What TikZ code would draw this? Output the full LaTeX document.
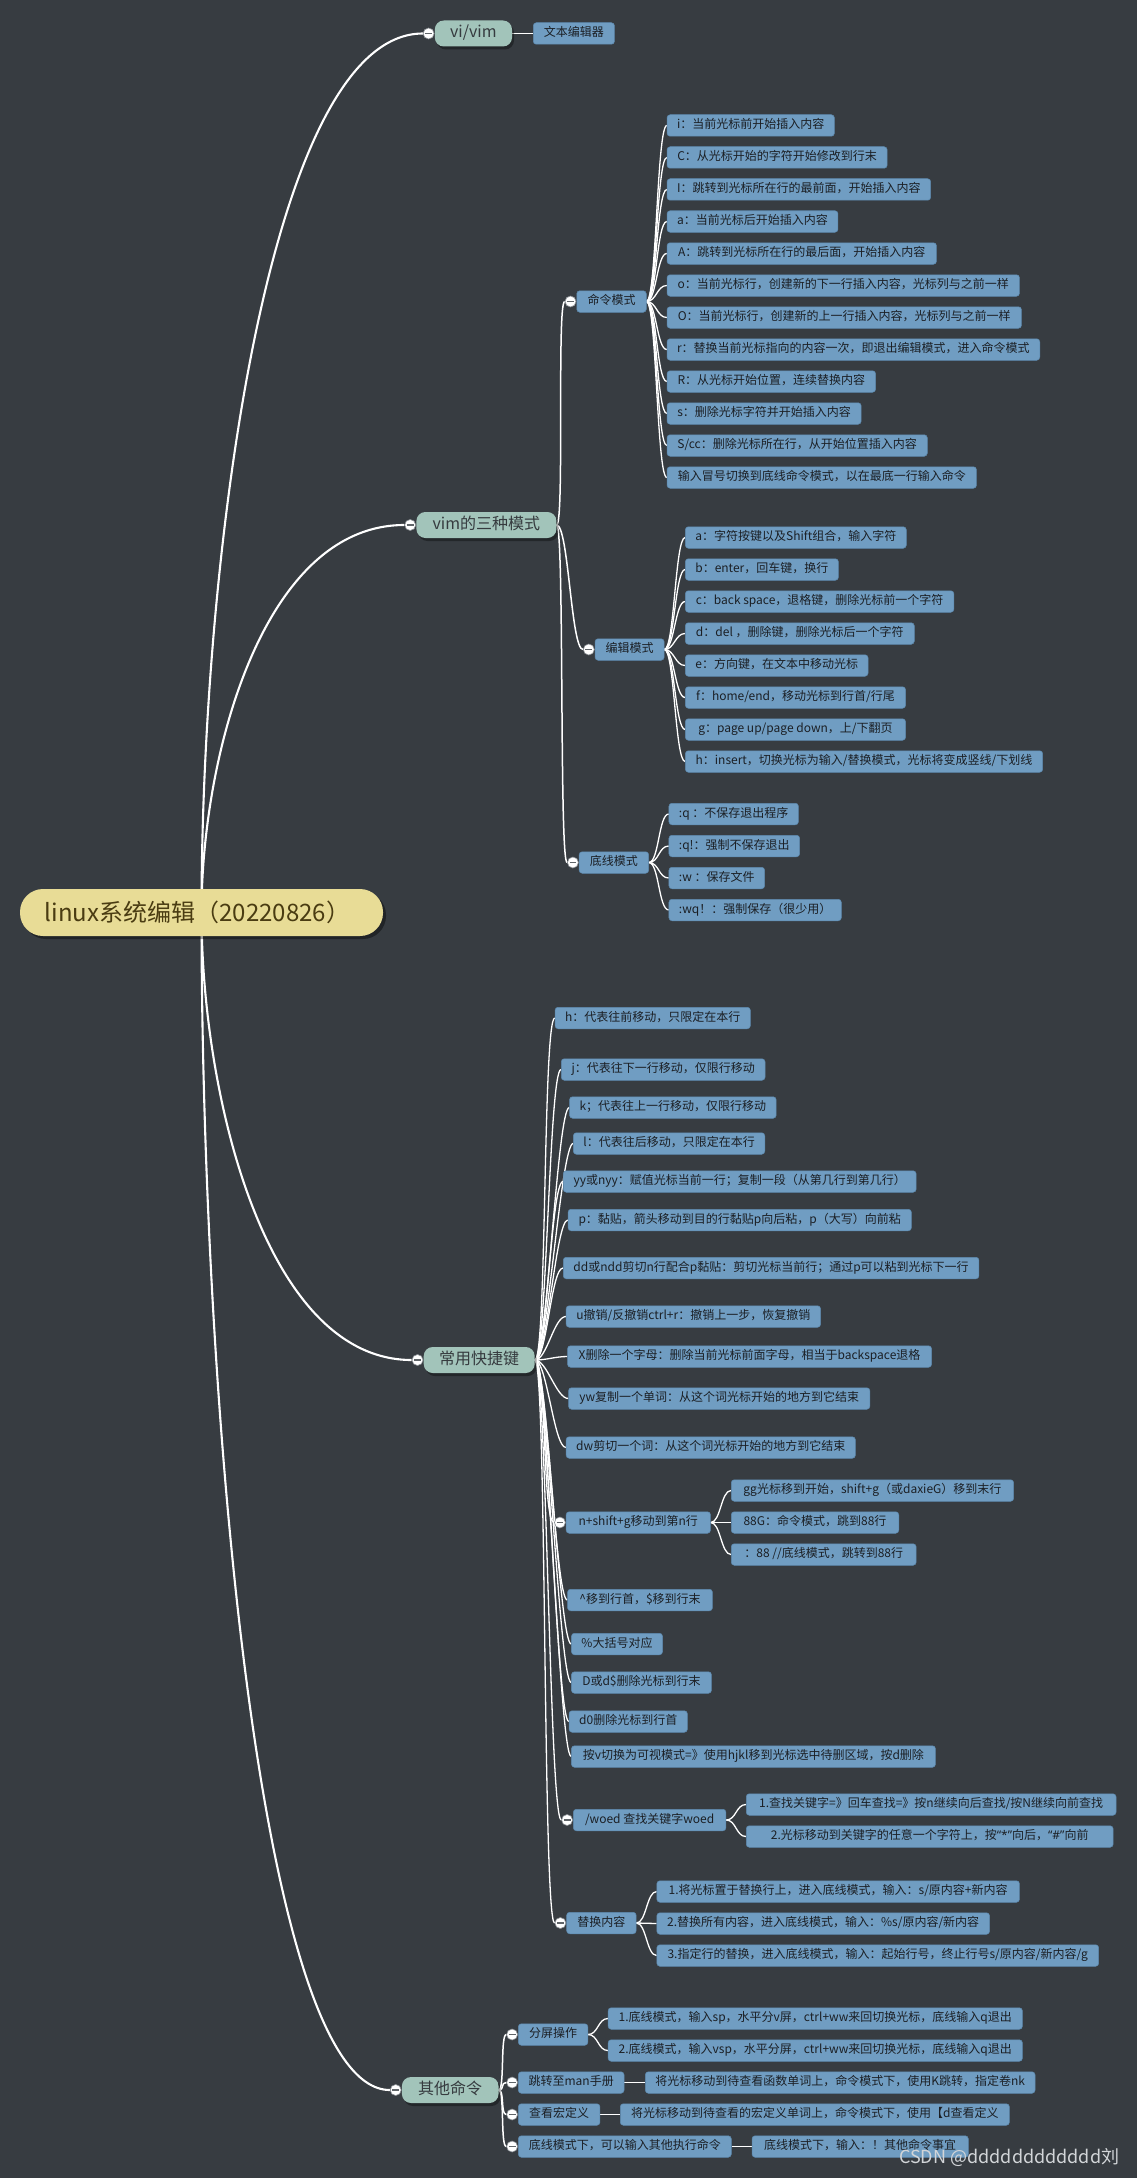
\documentclass[tikz,border=0pt]{standalone}
\usepackage{fontspec}
\setmainfont{Noto Sans CJK SC}
\newfontfamily\latinq{Noto Sans}
\usetikzlibrary{shadows}
\definecolor{bgc}{HTML}{373C41}
\definecolor{leafc}{HTML}{709DC2}
\definecolor{leafb}{HTML}{5C88AD}
\definecolor{leaft}{HTML}{1B1F24}
\definecolor{mainc}{HTML}{A2C4BA}
\definecolor{maint}{HTML}{363B3F}
\definecolor{rootc}{HTML}{E8DC96}
\definecolor{roott}{HTML}{4A3C12}
\definecolor{togb}{HTML}{8A8F94}
\definecolor{togm}{HTML}{5F6468}
\definecolor{wmc}{HTML}{D2D5D8}
\pgfdeclarelayer{bgfill}
\pgfdeclarelayer{edges}
\pgfsetlayers{bgfill,edges,main}
\begin{document}
\begin{tikzpicture}[x=1pt,y=-1pt,
  w/.style={minimum width=#1pt},
  leaf/.style={draw=leafb, fill=leafc, rounded corners=3pt, anchor=west, inner xsep=10pt, inner ysep=0pt,
    text height=9pt, text depth=2.6pt, minimum height=21.5pt, font=\fontsize{12}{14}\selectfont, text=leaft, line width=0.5pt},
  mainnode/.style={fill=mainc, rounded corners=9pt, anchor=west, inner xsep=14pt, inner ysep=0pt, minimum height=26pt,
    text height=12pt, text depth=3.5pt, font=\fontsize{16}{18}\selectfont, text=maint,
    drop shadow={shadow xshift=2pt, shadow yshift=-3pt, fill=black, opacity=0.35}},
  rootnode/.style={fill=rootc, rounded corners=23pt, minimum width=363pt, minimum height=47pt, inner sep=0pt,
    font=\fontsize{24}{28}\selectfont, text=roott,
    drop shadow={shadow xshift=3pt, shadow yshift=-3pt, fill=black, opacity=0.4}},
  tog/.style={circle, draw=togb, fill=white, minimum size=11pt, inner sep=0pt, line width=0.6pt,
    path picture={\draw[togm, line width=1.3pt] ([xshift=-3.4pt]path picture bounding box.center) -- ([xshift=3.4pt]path picture bounding box.center);}},
  link/.style={draw=white, line width=1.3pt},
  trunk/.style={draw=white, line width=2.1pt},
  sc/.style={out=0, in=180, out distance=#1, in distance=#1},
  sc/.default=10pt
]
\begin{pgfonlayer}{bgfill}
\fill[bgc] (0,0) rectangle (1137,2178);
\end{pgfonlayer}
\useasboundingbox (0,0) rectangle (1137,2178);

% root
\node[rootnode] (root) at (201.5,912.5) {\hspace*{-8pt}linux系统编辑（20220826）};

% ---- branch 1
\node[mainnode, w=77.2] (vv) at (434.6,33.5) {vi/vim};
\node[tog] (tvv) at ([xshift=-6pt]vv.west) {};
\node[leaf, w=81.2] (vv1) at (533,33.5) {文本编辑器};

% ---- branch 2
\node[mainnode, w=140] (m2) at (416.2,525) {vim的三种模式};
\node[tog] (tm2) at ([xshift=-6pt]m2.west) {};

\node[leaf, w=69.5] (cmd) at (576.5,301.5) {命令模式};
\node[tog] (tcmd) at ([xshift=-6pt]cmd.west) {};
\node[leaf, w=167.0] (c1) at (666.8,125.5) {i：当前光标前开始插入内容};
\node[leaf, w=220.1] (c2) at (666.8,157.5) {C：从光标开始的字符开始修改到行末};
\node[leaf, w=263.6] (c3) at (666.8,189.5) {I：跳转到光标所在行的最前面，开始插入内容};
\node[leaf, w=170.9] (c4) at (666.8,221.5) {a：当前光标后开始插入内容};
\node[leaf, w=269.4] (c5) at (666.8,253.5) {A：跳转到光标所在行的最后面，开始插入内容};
\node[leaf, w=352.4] (c6) at (666.8,285.5) {o：当前光标行，创建新的下一行插入内容，光标列与之前一样};
\node[leaf, w=354.4] (c7) at (666.8,317.5) {O：当前光标行，创建新的上一行插入内容，光标列与之前一样};
\node[leaf, w=372.7] (c8) at (666.8,349.5) {r：替换当前光标指向的内容一次，即退出编辑模式，进入命令模式};
\node[leaf, w=208.5] (c9) at (666.8,381.5) {R：从光标开始位置，连续替换内容};
\node[leaf, w=194.1] (c10) at (666.8,413.5) {s：删除光标字符并开始插入内容};
\node[leaf, w=260.2] (c11) at (666.8,445.5) {S/cc：删除光标所在行，从开始位置插入内容};
\node[leaf, w=309.4] (c12) at (666.8,477.5) {输入冒号切换到底线命令模式，以在最底一行输入命令};

\node[leaf, w=69.1] (edt) at (594.8,649.5) {编辑模式};
\node[tog] (tedt) at ([xshift=-6pt]edt.west) {};
\node[leaf, w=220.2] (e1) at (685.1,537.5) {a：字符按键以及Shift组合，输入字符};
\node[leaf, w=152.6] (e2) at (685.1,569.5) {b：enter，回车键，换行};
\node[leaf, w=268.5] (e3) at (685.1,601.5) {c：back space，退格键，删除光标前一个字符};
\node[leaf, w=228.9] (e4) at (685.1,633.5) {d：del ，删除键，删除光标后一个字符};
\node[leaf, w=182.5] (e5) at (685.1,665.5) {e：方向键，在文本中移动光标};
\node[leaf, w=220.2] (e6) at (685.1,697.5) {f：home/end，移动光标到行首/行尾};
\node[leaf, w=220.2] (e7) at (685.1,729.5) {g：page up/page down，上/下翻页};
\node[leaf, w=357.3] (e8) at (685.1,761.5) {h：insert，切换光标为输入/替换模式，光标将变成竖线/下划线};

\node[leaf, w=69.5] (bot) at (578.9,862.5) {底线模式};
\node[tog] (tbot) at ([xshift=-6pt]bot.west) {};
\node[leaf, w=129.4] (b1) at (668.7,814) {:q ：不保存退出程序};
\node[leaf, w=128.4] (b2) at (668.7,846) {:q!：强制不保存退出};
\node[leaf, w=95.6] (b3) at (668.7,878) {:w ：保存文件};
\node[leaf, w=170.9] (b4) at (668.7,910) {:wq！：强制保存（很少用）};

% ---- branch 3
\node[mainnode, w=111] (m3) at (423.5,1360) {常用快捷键};
\node[tog] (tm3) at ([xshift=-6pt]m3.west) {};
\node[leaf, w=193.6] (k1) at (554.8,1018) {h：代表往前移动，只限定在本行};
\node[leaf, w=203.8] (k2) at (561.0,1069.5) {j：代表往下一行移动，仅限行移动};
\node[leaf, w=205.1] (k3) at (569.3,1107.5) {k；代表往上一行移动，仅限行移动};
\node[leaf, w=189.8] (k4) at (573.1,1143.5) {l：代表往后移动，只限定在本行};
\node[leaf, w=352.9] (k5) at (563.0,1181.5) {yy或nyy：赋值光标当前一行；复制一段（从第几行到第几行）};
\node[leaf, w=343.3] (k6) at (567.8,1220) {p：黏贴，箭头移动到目的行黏贴p向后粘，p（大写）向前粘};
\node[leaf, w=415.7] (k7) at (563.0,1268) {dd或ndd剪切n行配合p黏贴：剪切光标当前行；通过p可以粘到光标下一行};
\node[leaf, w=254.4] (k8) at (565.9,1316.5) {u撤销/反撤销ctrl+r：撤销上一步，恢复撤销};
\node[leaf, w=364.0] (k9) at (567.3,1356.5) {X删除一个字母：删除当前光标前面字母，相当于backspace退格};
\node[leaf, w=301.3] (k10) at (568.3,1398.5) {yw复制一个单词：从这个词光标开始的地方到它结束};
\node[leaf, w=289.2] (k11) at (565.9,1447.5) {dw剪切一个词：从这个词光标开始的地方到它结束};
\node[leaf, w=144.3] (k12) at (565.9,1522.5) {n+shift+g移动到第n行};
\node[tog] (tk12) at ([xshift=-6pt]k12.west) {};
\node[leaf, w=144.9] (k13) at (567.3,1600) {\textasciicircum 移到行首，\$移到行末};
\node[leaf, w=89.3] (k14) at (571.2,1644) {\%大括号对应};
\node[leaf, w=140.0] (k15) at (571.2,1682.5) {D或d\$删除光标到行末};
\node[leaf, w=118.3] (k16) at (568.8,1721.5) {d0删除光标到行首};
\node[leaf, w=364.0] (k17) at (571.2,1756.5) {按v切换为可视模式=》使用hjkl移到光标选中待删区域，按d删除};
\node[leaf, w=152.6] (k18) at (573.1,1820) {/woed 查找关键字woed};
\node[tog] (tk18) at ([xshift=-6pt]k18.west) {};
\node[leaf, w=69.5] (k19) at (566.4,1923) {替换内容};
\node[tog] (tk19) at ([xshift=-6pt]k19.west) {};

\node[leaf, w=282.4] (g1) at (731.0,1490.5) {gg光标移到开始，shift+g（或daxieG）移到末行};
\node[leaf, w=167.5] (g2) at (731.0,1522.5) {88G：命令模式，跳到88行};
\node[leaf, w=184.9] (g3) at (731.0,1554.5) {：88 //底线模式，跳转到88行};

\node[leaf, w=369.8] (f1) at (746.0,1804.5) {1.查找关键字=》回车查找=》按n继续向后查找/按N继续向前查找};
\node[leaf, w=366.9] (f2) at (746.0,1836.5) {2.光标移动到关键字的任意一个字符上，按{\latinq “*”}向后，{\latinq “\#”}向前};

\node[leaf, w=362.6] (r1) at (656.6,1891.5) {1.将光标置于替换行上，进入底线模式，输入：s/原内容+新内容};
\node[leaf, w=332.7] (r2) at (656.6,1923.5) {2.替换所有内容，进入底线模式，输入：\%s/原内容/新内容};
\node[leaf, w=441.8] (r3) at (656.6,1955.5) {3.指定行的替换，进入底线模式，输入：起始行号，终止行号s/原内容/新内容/g};

% ---- branch 4
\node[mainnode, w=96.6] (m4) at (401.7,2090) {其他命令};
\node[tog] (tm4) at ([xshift=-6pt]m4.west) {};
\node[leaf, w=69.5] (o1) at (518.1,2034.5) {分屏操作};
\node[tog] (to1) at ([xshift=-6pt]o1.west) {};
\node[leaf, w=414.2] (s1) at (607.9,2018.5) {1.底线模式，输入sp，水平分v屏，ctrl+ww来回切换光标，底线输入q退出};
\node[leaf, w=414.2] (s2) at (607.9,2050.5) {2.底线模式，输入vsp，水平分屏，ctrl+ww来回切换光标，底线输入q退出};
\node[leaf, w=105.7] (o2) at (518.1,2082.5) {跳转至man手册};
\node[tog] (to2) at ([xshift=-6pt]o2.west) {};
\node[leaf, w=389.6] (o2a) at (645.1,2082.5) {将光标移动到待查看函数单词上，命令模式下，使用K跳转，指定卷nk};
\node[leaf, w=81.6] (o3) at (518.1,2114.5) {查看宏定义};
\node[tog] (to3) at ([xshift=-6pt]o3.west) {};
\node[leaf, w=389.1] (o3a) at (620.0,2114.5) {将光标移动到待查看的宏定义单词上，命令模式下，使用【d查看定义};
\node[leaf, w=212.9] (o4) at (518.1,2146.5) {底线模式下，可以输入其他执行命令};
\node[tog] (to4) at ([xshift=-6pt]o4.west) {};
\node[leaf, w=216.2] (o4a) at (751.8,2146.5) {底线模式下，输入：！其他命令事宜};

% watermark
\node[anchor=west, text=wmc, inner sep=0pt, font=\fontsize{18}{20}\selectfont] (wm) at (899,2157) {CSDN @dddddddddddd刘};

% ---- connectors
\begin{pgfonlayer}{edges}
\draw[trunk] (root.center) .. controls (201.5,561) and (267.7,33.5) .. (tvv.west);
\draw[trunk] (root.center) .. controls (201.5,757.5) and (262.3,525) .. (tm2.west);
\draw[trunk] (root.center) .. controls (201.5,1091.5) and (264.1,1360) .. (tm3.west);
\draw[trunk] (root.center) .. controls (201.5,1383.5) and (257.6,2090) .. (tm4.west);

\draw[link, line width=1.8pt] (vv.east) -- (vv1.west);

\draw[link, line width=1.5pt] (m2.east) to[sc=8pt] (tcmd.west);
\draw[link, line width=1.5pt] (m2.east) to[sc=12pt] (tedt.west);
\draw[link, line width=1.5pt] (m2.east) to[sc=8pt] (tbot.west);
\foreach \i in {1,...,12} \draw[link] (cmd.east) to[sc=10pt] (c\i.west);
\foreach \i in {1,...,8} \draw[link] (edt.east) to[sc=10pt] (e\i.west);
\foreach \i in {1,...,4} \draw[link] (bot.east) to[sc=10pt] (b\i.west);

\foreach \i in {1,...,11,13,14,15,16,17} \draw[link] (m3.east) to[sc=12pt] (k\i.west);
\draw[link] (m3.east) to[sc=12pt] (tk12.west);
\draw[link] (m3.east) to[sc=12pt] (tk18.west);
\draw[link] (m3.east) to[sc=12pt] (tk19.west);
\foreach \i in {1,2,3} \draw[link] (k12.east) to[sc=10pt] (g\i.west);
\foreach \i in {1,2} \draw[link] (k18.east) to[sc=10pt] (f\i.west);
\foreach \i in {1,2,3} \draw[link] (k19.east) to[sc=10pt] (r\i.west);

\foreach \i in {1,...,4} \draw[link, line width=1.5pt] (m4.east) to[sc=6pt] (to\i.west);
\draw[link] (o1.east) to[sc=10pt] (s1.west);
\draw[link] (o1.east) to[sc=10pt] (s2.west);
\draw[link, line width=1.8pt] (o2.east) -- (o2a.west);
\draw[link, line width=1.8pt] (o3.east) -- (o3a.west);
\draw[link, line width=1.8pt] (o4.east) -- (o4a.west);
\end{pgfonlayer}
\end{tikzpicture}
\end{document}
